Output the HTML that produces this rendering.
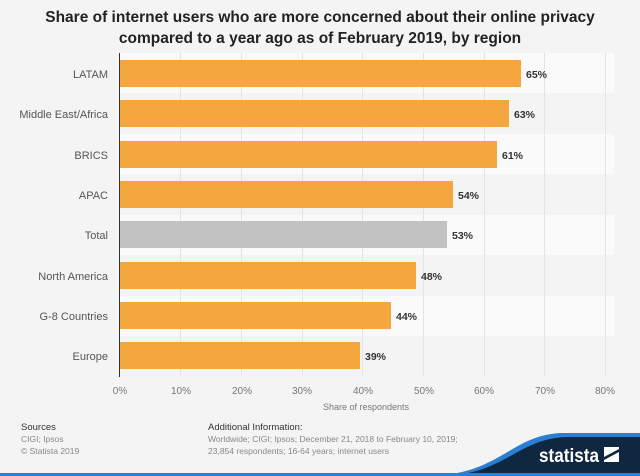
<!DOCTYPE html>
<html><head><meta charset="utf-8"><style>
body{margin:0;width:640px;height:476px;background:#f4f4f4;font-family:"Liberation Sans",Arial,sans-serif;overflow:hidden;position:relative}
.t{position:absolute;white-space:nowrap}
</style></head><body>
<div class="t" style="left:0;width:640px;top:7px;text-align:center;font-weight:bold;font-size:15.5px;line-height:21px;color:#222">Share of internet users who are more concerned about their online privacy<br>compared to a year ago as of February 2019, by region</div>
<svg width="640" height="476" style="position:absolute;left:0;top:0" font-family="Liberation Sans,Arial,sans-serif">
<g fill="#fafafa">
<rect x="120" y="53" width="494" height="40"/><rect x="120" y="134" width="494" height="40"/><rect x="120" y="215" width="494" height="40"/><rect x="120" y="296" width="494" height="40"/>
</g>
<g stroke="#e4e4e4" stroke-width="1">
<line x1="180.5" y1="53" x2="180.5" y2="377"/><line x1="241.5" y1="53" x2="241.5" y2="377"/><line x1="302.5" y1="53" x2="302.5" y2="377"/><line x1="362.5" y1="53" x2="362.5" y2="377"/><line x1="423.5" y1="53" x2="423.5" y2="377"/><line x1="484.5" y1="53" x2="484.5" y2="377"/><line x1="544.5" y1="53" x2="544.5" y2="377"/><line x1="605.5" y1="53" x2="605.5" y2="377"/>
</g>
<g fill="#f5a63e">
<rect x="120" y="60" width="401" height="27"/>
<rect x="120" y="100" width="389" height="27"/>
<rect x="120" y="141" width="377" height="27"/>
<rect x="120" y="181" width="333" height="27"/>
<rect x="120" y="262" width="296" height="27"/>
<rect x="120" y="302" width="271" height="27"/>
<rect x="120" y="342" width="240" height="27"/>
</g>
<rect x="120" y="221" width="327" height="27" fill="#c2c2c2"/>
<line x1="119.5" y1="53" x2="119.5" y2="377" stroke="#333" stroke-width="1"/>
<g font-size="11" fill="#555" text-anchor="end">
<text x="108" y="78">LATAM</text><text x="108" y="118">Middle East/Africa</text><text x="108" y="159">BRICS</text><text x="108" y="199">APAC</text><text x="108" y="239">Total</text><text x="108" y="280">North America</text><text x="108" y="320">G-8 Countries</text><text x="108" y="360">Europe</text>
</g>
<g font-size="10.5" font-weight="bold" fill="#333">
<text x="526" y="78">65%</text><text x="514" y="118">63%</text><text x="502" y="159">61%</text><text x="458" y="199">54%</text><text x="452" y="239">53%</text><text x="421" y="280">48%</text><text x="396" y="320">44%</text><text x="365" y="360">39%</text>
</g>
<g font-size="10" fill="#777" text-anchor="middle">
<text x="120" y="394">0%</text><text x="181" y="394">10%</text><text x="242" y="394">20%</text><text x="302" y="394">30%</text><text x="363" y="394">40%</text><text x="424" y="394">50%</text><text x="484" y="394">60%</text><text x="545" y="394">70%</text><text x="605" y="394">80%</text>
<text x="366" y="410" font-size="9">Share of respondents</text>
</g>
<text x="21" y="430" font-size="9.5" fill="#333">Sources</text>
<text x="21" y="442" font-size="8.5" fill="#888">CIGI; Ipsos</text>
<text x="21" y="454" font-size="8.5" fill="#888">© Statista 2019</text>
<text x="208" y="430" font-size="9.5" fill="#333">Additional Information:</text>
<text x="208" y="442" font-size="8.5" fill="#888">Worldwide; CIGI; Ipsos; December 21, 2018 to February 10, 2019;</text>
<text x="208" y="454" font-size="8.5" fill="#888">23,854 respondents; 16-64 years; internet users</text>
<path d="M430 476 C500 474 510 436 560 433 L640 433 L640 476 Z" fill="#2a7fd4"/>
<path d="M440 476 C505 475 515 440 565 437 L640 437 L640 476 Z" fill="#0f2740"/>
<rect x="0" y="473" width="640" height="3" fill="#2a7fd4"/>
<text x="539" y="462" font-size="19" font-weight="bold" fill="#fff" textLength="60" lengthAdjust="spacingAndGlyphs">statista</text>
<path d="M604 447 L619 447 L619 449 L604 457 Z M619 452 L619 462 L604 462 L604 460 Z" fill="#fff"/>
</svg>
</body></html>
